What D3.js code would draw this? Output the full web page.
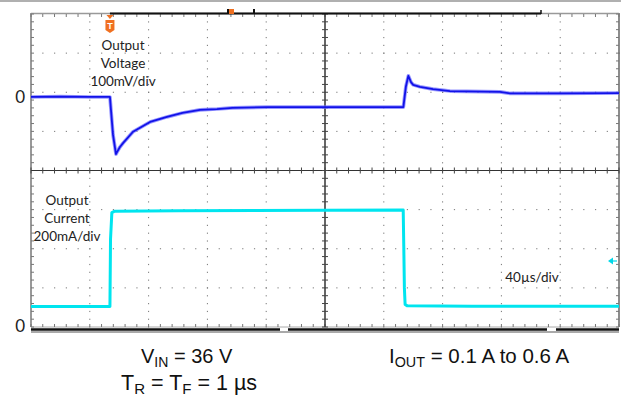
<!DOCTYPE html>
<html><head><meta charset="utf-8">
<script src="https://cdn.jsdelivr.net/npm/d3@7"></script>
<style>
html,body{margin:0;padding:0;background:#fff;}
svg{display:block;}
</style></head>
<body>
<svg id="c" width="621" height="402"></svg>
<script>
// ---- data ----
// time in microseconds (40 µs/div, 10 divisions)
const timeTicks = [0,40,80,120,160,200,240,280,320,360,400];
const divTicks = [0,1,2,3,4,5,6,7,8];
// Output voltage deviation (mV), 100 mV/div
const timeV = [0,20,40,53.7,54.4,55.8,57.8,58.5,60.5,62.6,69.4,81,92.5,103,115,126.5,137,160.5,183,220,253.3,255,256.7,258.5,260,264.6,273.5,285,319,326,360,400];
const voltageMV = [0,1,0,0,-33,-97,-146,-141,-128,-118,-89,-64,-51,-41,-33,-31,-28,-26,-26,-26,-26,26,54,38,31,26,20,15,13,9,9,10];
// Output current (A), 200 mA/div
const timeI = [0,53.7,54.1,55,57,100,200,253.2,253.6,254,254.5,256,300,400];
const currentA = [0.105,0.105,0.45,0.585,0.592,0.594,0.597,0.598,0.41,0.2,0.115,0.108,0.106,0.106];
const triggerT = 53.7;
const labelsV = ["Output","Voltage","100mV/div"];
const labelsI = ["Output","Current","200mA/div"];
const timebase = "40µs/div";

const svg = d3.select("#c");
const x = d3.scaleLinear().domain([0,400]).range([31,619]);
const gy = d3.scaleLinear().domain([0,8]).range([327,14]);
const vY = d3.scaleLinear().domain([-588,212]).range([327,14]);
const iY = d3.scaleLinear().domain([0,1.6]).range([327,14]);

// top gray frame line
svg.append("line").attr("x1",0).attr("x2",621).attr("y1",1).attr("y2",1).attr("stroke","#b0b0b0").attr("stroke-width",2);

const g = svg.append("g");
// dotted grid
const minorX = d3.range(0,400.01,8);
const minorY = d3.range(0,8.01,0.2);
timeTicks.forEach(t=>{
  if (t===0||t===200||t===400) return;
  g.selectAll(null).data(minorY).enter().append("rect")
   .attr("x",x(t)-0.5).attr("y",d=>gy(d)-0.5).attr("width",1).attr("height",1.2).attr("fill","#777");
});
divTicks.forEach(d0=>{
  if (d0===0||d0===4||d0===8) return;
  g.selectAll(null).data(minorX).enter().append("rect")
   .attr("x",d=>x(d)-0.5).attr("y",gy(d0)-0.5).attr("width",1.2).attr("height",1).attr("fill","#777");
});
// frame
g.append("line").attr("x1",x(0)).attr("x2",x(0)).attr("y1",gy(8)-1).attr("y2",gy(0)).attr("stroke","#999").attr("stroke-width",2);
g.append("line").attr("x1",x(400)).attr("x2",x(400)).attr("y1",gy(8)-1).attr("y2",gy(0)).attr("stroke","#666").attr("stroke-width",1.5);
g.append("line").attr("x1",x(0)).attr("x2",x(400)).attr("y1",gy(8)-0.5).attr("y2",gy(8)-0.5).attr("stroke","#999").attr("stroke-width",1.5);
g.append("line").attr("x1",x(0)).attr("x2",x(400)).attr("y1",gy(0)).attr("y2",gy(0)).attr("stroke","#aaa").attr("stroke-width",1);
// ticks on frame edges
g.selectAll(null).data(minorX).enter().append("line")
 .attr("x1",d=>x(d)).attr("x2",d=>x(d)).attr("y1",gy(8)).attr("y2",gy(8)+3).attr("stroke","#777").attr("stroke-width",1);
g.selectAll(null).data(minorX).enter().append("line")
 .attr("x1",d=>x(d)).attr("x2",d=>x(d)).attr("y1",gy(0)-3).attr("y2",gy(0)).attr("stroke","#777").attr("stroke-width",1);
g.selectAll(null).data(minorY).enter().append("line")
 .attr("x1",x(0)).attr("x2",x(0)+3).attr("y1",d=>gy(d)).attr("y2",d=>gy(d)).attr("stroke","#777").attr("stroke-width",1);
g.selectAll(null).data(minorY).enter().append("line")
 .attr("x1",x(400)-3).attr("x2",x(400)).attr("y1",d=>gy(d)).attr("y2",d=>gy(d)).attr("stroke","#777").attr("stroke-width",1);
// center axes
g.append("line").attr("x1",x(200)).attr("x2",x(200)).attr("y1",gy(8)).attr("y2",gy(0)).attr("stroke","#333").attr("stroke-width",1.5);
g.append("line").attr("x1",x(0)).attr("x2",x(400)).attr("y1",gy(4)).attr("y2",gy(4)).attr("stroke","#333").attr("stroke-width",1.2);
g.selectAll(null).data(minorY).enter().append("line")
 .attr("x1",x(200)-3).attr("x2",x(200)+3).attr("y1",d=>gy(d)).attr("y2",d=>gy(d)).attr("stroke","#444").attr("stroke-width",1);
g.selectAll(null).data(minorX).enter().append("line")
 .attr("x1",d=>x(d)).attr("x2",d=>x(d)).attr("y1",gy(4)-3).attr("y2",gy(4)+3).attr("stroke","#444").attr("stroke-width",1);

// top black bar (record window)
svg.append("line").attr("x1",x(triggerT)).attr("x2",541).attr("y1",gy(8)-0.5).attr("y2",gy(8)-0.5).attr("stroke","#111").attr("stroke-width",2);
svg.append("line").attr("x1",541).attr("x2",541).attr("y1",gy(8)-4).attr("y2",gy(8)).attr("stroke","#111").attr("stroke-width",1.5);
svg.append("rect").attr("x",227).attr("y",gy(8)-5).attr("width",2).attr("height",5).attr("fill","#111");
svg.append("rect").attr("x",229).attr("y",gy(8)-5).attr("width",5).attr("height",5).attr("fill","#f07020");
svg.append("rect").attr("x",253).attr("y",gy(8)-5).attr("width",2).attr("height",5).attr("fill","#111");

// bottom thick black lines
const bot = svg.append("g");
[[31,280],[288,547],[556,619]].forEach(s=>{
  bot.append("line").attr("x1",s[0]).attr("x2",s[1]).attr("y1",329.5).attr("y2",329.5).attr("stroke","#111").attr("stroke-width",2.5);
});
bot.append("line").attr("x1",31).attr("x2",619).attr("y1",332).attr("y2",332).attr("stroke","#555").attr("stroke-width",1);

// traces
const lineV = d3.line().x((d,i)=>x(timeV[i])).y(d=>vY(d));
const lineI = d3.line().x((d,i)=>x(timeI[i])).y(d=>iY(d));
svg.append("path").datum(voltageMV).attr("d",lineV).attr("fill","none").attr("stroke","#6b6bff").attr("stroke-width",3.6).attr("stroke-linejoin","round").attr("opacity",0.7);
svg.append("path").datum(voltageMV).attr("d",lineV).attr("fill","none").attr("stroke","#1212e8").attr("stroke-width",1.8).attr("stroke-linejoin","round");
svg.append("path").datum(currentA).attr("d",lineI).attr("fill","none").attr("stroke","#00e5ef").attr("stroke-width",3).attr("stroke-linejoin","round");

// trigger marker
const tx = x(triggerT);
svg.append("path").attr("d",`M${tx-3.5},${gy(8)+1}L${tx+3.5},${gy(8)+1}L${tx},${gy(8)+5}Z`).attr("fill","#f07020");
svg.append("path").attr("d",`M${tx-4.5},${gy(8)+6}H${tx+4.5}V${gy(8)+16}L${tx},${gy(8)+19}L${tx-4.5},${gy(8)+16}Z`).attr("fill","#f07020");
svg.append("text").attr("x",tx).attr("y",gy(8)+15).attr("text-anchor","middle").attr("font-family","Liberation Sans, Arial").attr("font-weight","bold").attr("font-size",9).attr("fill","#fff").text("T");

// right cyan marker
svg.append("path").attr("d","M608,261L613,257.5L613,264.5Z").attr("fill","#00d8e8");
svg.append("line").attr("x1",612).attr("x2",617).attr("y1",261).attr("y2",261).attr("stroke","#00d8e8").attr("stroke-width",1.2);

// labels
const fam = "Lato, 'Open Sans', sans-serif";
svg.append("g").selectAll("text").data(labelsV).enter().append("text")
 .attr("x",123).attr("y",(d,i)=>50+i*18).attr("text-anchor","middle").attr("font-family",fam).attr("font-size",13.5).attr("fill","#222").text(d=>d);
svg.append("g").selectAll("text").data(labelsI).enter().append("text")
 .attr("x",67).attr("y",(d,i)=>205+i*18).attr("text-anchor","middle").attr("font-family",fam).attr("font-size",13.5).attr("fill","#222").text(d=>d);
svg.append("text").attr("x",532).attr("y",282).attr("text-anchor","middle").attr("font-family",fam).attr("font-size",13.5).attr("fill","#222").text(timebase);
svg.append("text").attr("x",25).attr("y",vY(0)+6).attr("text-anchor","end").attr("font-family",fam).attr("font-size",17).attr("fill","#222").text("0");
svg.append("text").attr("x",25).attr("y",iY(0)+5).attr("text-anchor","end").attr("font-family",fam).attr("font-size",17).attr("fill","#222").text("0");

// bottom conditions
const af = "'Liberation Sans', Arial, sans-serif";
function cond(xp, yp, parts, fs){
  const t = svg.append("text").attr("x",xp).attr("y",yp).attr("font-family",af).attr("font-size",fs).attr("fill","#111");
  parts.forEach(p=>{
    const s = t.append("tspan").text(p[0]);
    if (p[1]==="sub") s.attr("font-size",fs*0.7).attr("dy",4);
    else if (p[1]==="up") s.attr("dy",-4);
  });
}
cond(141,363,[["V"],["IN","sub"],[" = 36 V","up"]],20);
cond(121,390,[["T"],["R","sub"],[" = T","up"],["F","sub"],[" = 1 µs","up"]],21.5);
cond(389,363,[["I"],["OUT","sub"],[" = 0.1 A to 0.6 A","up"]],20.5);
</script>
</body></html>
